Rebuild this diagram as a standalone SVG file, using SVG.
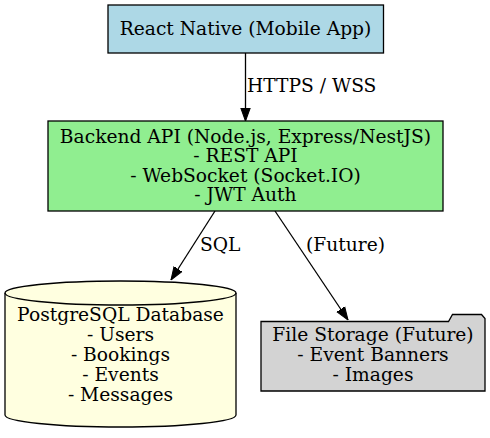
<svg xmlns="http://www.w3.org/2000/svg" width="490" height="438" viewBox="0 0 490 438">
<style>
text{font-family:"DejaVu Serif","Liberation Serif",serif;font-size:18.67px;fill:#000;text-anchor:middle}
.shape{stroke:#000;stroke-width:1.3}
.edge{stroke:#000;stroke-width:1.3;fill:none}
.lbl{text-anchor:start}
</style>
<defs>
<marker id="arr" viewBox="0 0 10 10" refX="10" refY="5" markerWidth="13" markerHeight="13" markerUnits="userSpaceOnUse" orient="auto">
<path d="M0,1.4 L10,5 L0,8.6 Z" fill="#000" stroke="#000" stroke-width="0.8"/>
</marker>
</defs>
<rect width="490" height="438" fill="#fff"/>
<g id="edges">
<line class="edge" x1="245.5" y1="53" x2="245.5" y2="121" marker-end="url(#arr)"/>
<text class="lbl" x="247" y="92">HTTPS / WSS</text>
<line class="edge" x1="215" y1="211" x2="171" y2="280" marker-end="url(#arr)"/>
<text class="lbl" x="200" y="251">SQL</text>
<line class="edge" x1="275" y1="211" x2="348" y2="320" marker-end="url(#arr)"/>
<text class="lbl" x="306" y="251">(Future)</text>
</g>
<g id="react">
<rect class="shape" x="108" y="5" width="275.5" height="48" fill="#add8e6"/>
<text x="245.5" y="35">React Native (Mobile App)</text>
</g>
<g id="backend">
<rect class="shape" x="48" y="121" width="395" height="90" fill="#90ee90"/>
<text x="245.5" y="143">Backend API (Node.js, Express/NestJS)</text>
<text x="245.5" y="162">- REST API</text>
<text x="245.5" y="181.5">- WebSocket (Socket.IO)</text>
<text x="245.5" y="201">- JWT Auth</text>
</g>
<g id="postgres">
<path class="shape" d="M5,293 A115.5,12 0 0 1 236,293 L236,415 A115.5,12 0 0 1 5,415 Z" fill="#ffffe0"/>
<path class="shape" d="M5,293 A115.5,12 0 0 0 236,293" fill="none"/>
<text x="120.5" y="321">PostgreSQL Database</text>
<text x="120.5" y="341">- Users</text>
<text x="120.5" y="361">- Bookings</text>
<text x="120.5" y="381">- Events</text>
<text x="120.5" y="401">- Messages</text>
</g>
<g id="filestorage">
<path class="shape" d="M261,321.5 L448.5,321.5 L452.5,314.5 L481.5,314.5 L485,318.5 L485,391 L261,391 Z" fill="#d3d3d3"/>
<text x="373" y="341">File Storage (Future)</text>
<text x="373" y="361">- Event Banners</text>
<text x="373" y="381">- Images</text>
</g>
</svg>
